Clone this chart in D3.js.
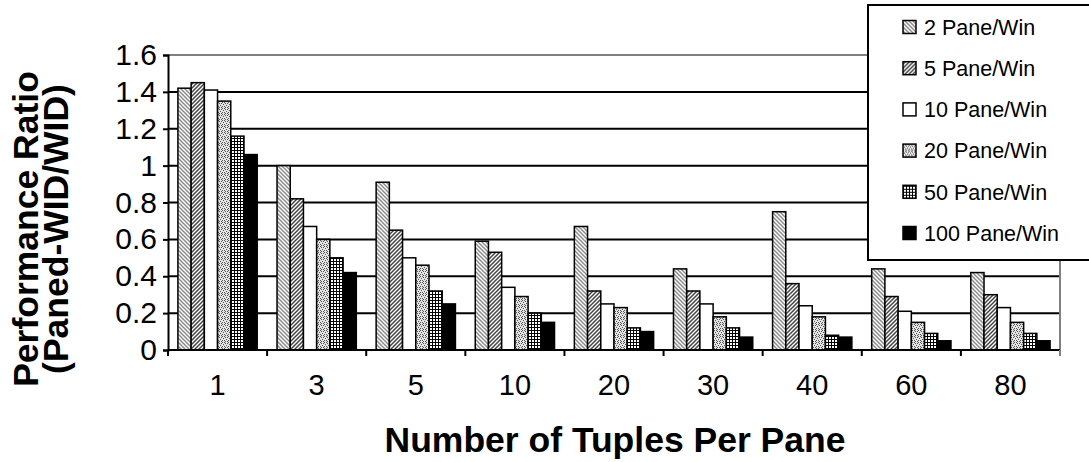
<!DOCTYPE html>
<html>
<head>
<meta charset="utf-8">
<script src="https://cdn.jsdelivr.net/npm/d3@7"></script>
<style>
  body { margin: 0; background: #fff; }
  text { font-family: "Liberation Sans", Arial, sans-serif; }
</style>
</head>
<body>
<div class="chart"></div>
<script>
var svgWidth = 1089;
var svgHeight = 462;

var categories = ["1", "3", "5", "10", "20", "30", "40", "60", "80"];
var seriesNames = ["2 Pane/Win", "5 Pane/Win", "10 Pane/Win", "20 Pane/Win", "50 Pane/Win", "100 Pane/Win"];
var pane2 = [1.42, 1.00, 0.91, 0.59, 0.67, 0.44, 0.75, 0.44, 0.42];
var pane5 = [1.45, 0.82, 0.65, 0.53, 0.32, 0.32, 0.36, 0.29, 0.30];
var pane10 = [1.41, 0.67, 0.50, 0.34, 0.25, 0.25, 0.24, 0.21, 0.23];
var pane20 = [1.35, 0.60, 0.46, 0.29, 0.23, 0.18, 0.18, 0.15, 0.15];
var pane50 = [1.16, 0.50, 0.32, 0.20, 0.12, 0.12, 0.08, 0.09, 0.09];
var pane100 = [1.06, 0.42, 0.25, 0.15, 0.10, 0.07, 0.07, 0.05, 0.05];
var yTicks = [0, 0.2, 0.4, 0.6, 0.8, 1, 1.2, 1.4, 1.6];

var seriesValues = [pane2, pane5, pane10, pane20, pane50, pane100];
var fills = ["url(#p2)", "url(#p5)", "#fff", "url(#p20)", "url(#p50)", "#000"];

var plot = { left: 168, right: 1060, top: 55, bottom: 350 };

var svg = d3.select(".chart")
  .append("svg")
  .attr("width", svgWidth)
  .attr("height", svgHeight);

// fill patterns
var defs = svg.append("defs");

var p2 = defs.append("pattern").attr("id", "p2")
  .attr("patternUnits", "userSpaceOnUse").attr("width", 4).attr("height", 4);
p2.append("rect").attr("width", 4).attr("height", 4).attr("fill", "#fff");
p2.append("path").attr("d", "M-1,-1 L5,5 M-1,3 L1,5 M3,-1 L5,1")
  .attr("stroke", "#8c8c8c").attr("stroke-width", 1.5);

var p5 = defs.append("pattern").attr("id", "p5")
  .attr("patternUnits", "userSpaceOnUse").attr("width", 4).attr("height", 4);
p5.append("rect").attr("width", 4).attr("height", 4).attr("fill", "#fff");
p5.append("path").attr("d", "M-1,5 L5,-1 M-1,1 L1,-1 M3,5 L5,3")
  .attr("stroke", "#444").attr("stroke-width", 1.5);

var p20 = defs.append("pattern").attr("id", "p20")
  .attr("patternUnits", "userSpaceOnUse").attr("width", 6).attr("height", 6);
p20.append("rect").attr("width", 6).attr("height", 6).attr("fill", "#e4e4e4");
[[0, 0], [3, 1], [1, 2], [4, 3], [2, 4], [5, 5], [0, 4], [3, 5], [5, 1], [2, 0]].forEach(function(d) {
  p20.append("rect").attr("x", d[0]).attr("y", d[1]).attr("width", 1).attr("height", 1).attr("fill", "#555");
});

var p50 = defs.append("pattern").attr("id", "p50")
  .attr("patternUnits", "userSpaceOnUse").attr("width", 3).attr("height", 3);
p50.append("rect").attr("width", 3).attr("height", 3).attr("fill", "#fff");
p50.append("path").attr("d", "M0,0.5 H3 M0.5,0 V3")
  .attr("stroke", "#000").attr("stroke-width", 1);

// scales
var x = d3.scaleBand()
  .domain(categories)
  .range([plot.left, plot.right])
  .paddingInner(0.2)
  .paddingOuter(0.1);

var x1 = d3.scaleBand()
  .domain(d3.range(seriesNames.length))
  .range([0, x.bandwidth()]);

var y = d3.scaleLinear()
  .domain([0, 1.6])
  .range([plot.bottom, plot.top]);

// gridlines
svg.append("g")
  .selectAll("line")
  .data(yTicks.slice(1, -1))
  .enter().append("line")
  .attr("x1", plot.left).attr("x2", plot.right)
  .attr("y1", d => y(d)).attr("y2", d => y(d))
  .attr("stroke", "#000").attr("stroke-width", 2);

// plot area border (top & right)
svg.append("path")
  .attr("d", `M${plot.left},${y(1.6)} H${plot.right} V${plot.bottom}`)
  .attr("fill", "none").attr("stroke", "#808080").attr("stroke-width", 2);

// bars
var groups = svg.append("g")
  .selectAll("g")
  .data(seriesValues)
  .enter().append("g")
  .attr("fill", (d, i) => fills[i]);

groups.selectAll("rect")
  .data((d, i) => d.map((v, j) => ({ v: v, s: i, c: categories[j] })))
  .enter().append("rect")
  .attr("x", d => x(d.c) + x1(d.s))
  .attr("y", d => y(d.v))
  .attr("width", x1.bandwidth())
  .attr("height", d => y(0) - y(d.v))
  .attr("stroke", "#000")
  .attr("stroke-width", 1.5);

// y axis
var leftAxis = d3.axisLeft(y).tickValues(yTicks).tickSize(5).tickPadding(6)
  .tickFormat(d3.format("~g"));
var yAxisG = svg.append("g")
  .attr("transform", `translate(${plot.left},0)`)
  .call(leftAxis);
yAxisG.select(".domain").attr("stroke-width", 2);
yAxisG.selectAll(".tick line").attr("stroke-width", 2);
yAxisG.selectAll("text")
  .attr("font-size", 30)
  .attr("fill", "#000");

// x axis
svg.append("line")
  .attr("x1", plot.left).attr("x2", plot.right)
  .attr("y1", plot.bottom).attr("y2", plot.bottom)
  .attr("stroke", "#000").attr("stroke-width", 2);

svg.append("g")
  .selectAll("line")
  .data(d3.range(categories.length + 1))
  .enter().append("line")
  .attr("x1", i => plot.left + i * x.step())
  .attr("x2", i => plot.left + i * x.step())
  .attr("y1", plot.bottom).attr("y2", plot.bottom + 6)
  .attr("stroke", (d, i) => i === categories.length ? "#808080" : "#000")
  .attr("stroke-width", 2);

svg.append("g")
  .selectAll("text")
  .data(categories)
  .enter().append("text")
  .attr("x", d => x(d) + x.bandwidth() / 2)
  .attr("y", 395)
  .attr("text-anchor", "middle")
  .attr("font-size", 29)
  .text(d => d);

// axis titles
svg.append("text")
  .attr("x", 615).attr("y", 452)
  .attr("text-anchor", "middle")
  .attr("font-size", 35.5)
  .attr("font-weight", "bold")
  .text("Number of Tuples Per Pane");

var yTitle = svg.append("g")
  .attr("transform", "translate(0,229) rotate(-90)")
  .attr("text-anchor", "middle")
  .attr("font-size", 35.5)
  .attr("font-weight", "bold");
yTitle.append("text").attr("x", 0).attr("y", 38).text("Performance Ratio");
yTitle.append("text").attr("x", 0).attr("y", 68).text("(Paned-WID/WID)");

// legend
svg.append("rect")
  .attr("x", 868).attr("y", 5)
  .attr("width", 240).attr("height", 255)
  .attr("fill", "#fff").attr("stroke", "#000").attr("stroke-width", 2);

var legend = svg.append("g")
  .selectAll("g")
  .data(seriesNames)
  .enter().append("g")
  .attr("transform", (d, i) => `translate(903,${27 + i * 41.2})`);

legend.append("rect")
  .attr("x", 0).attr("y", -6.5)
  .attr("width", 13).attr("height", 13)
  .attr("fill", (d, i) => fills[i])
  .attr("stroke", "#000").attr("stroke-width", 1.5);

legend.append("text")
  .attr("x", 21).attr("y", 0)
  .attr("dy", "0.36em")
  .attr("font-size", 21.5)
  .text(d => d);
</script>
</body>
</html>
